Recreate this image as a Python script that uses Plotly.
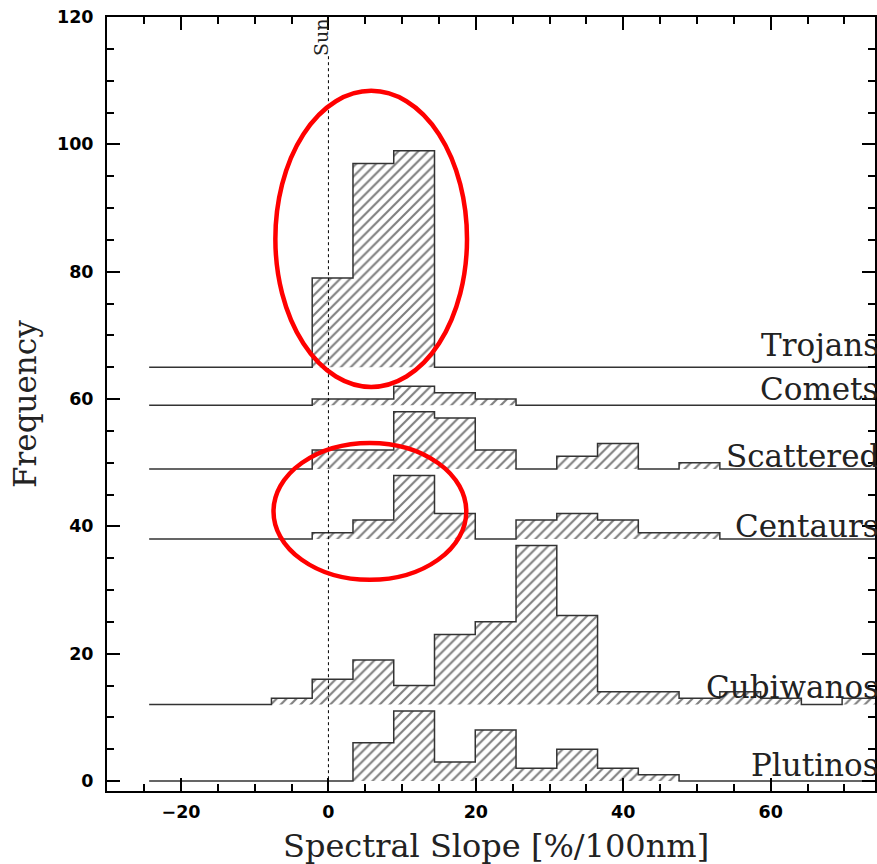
import plotly.graph_objects as go

# Histogram binning (spectral slope, %/100nm)
bin_start = -24.32
bin_width = 5.53
n_bins = 18

# Counts per bin for each dynamical class
plutinos = [0, 0, 0, 0, 0, 6, 11, 3, 8, 2, 5, 2, 1, 0, 0, 0, 0, 0]
cubiwanos = [0, 0, 0, 1, 4, 7, 3, 11, 13, 25, 14, 2, 2, 1, 2, 1, 0, 1]
centaurs = [0, 0, 0, 0, 1, 3, 10, 4, 0, 3, 4, 3, 1, 1, 0, 0, 0, 0]
scattered = [0, 0, 0, 0, 3, 3, 9, 8, 3, 0, 2, 4, 0, 1, 0, 0, 0, 0]
comets = [0, 0, 0, 0, 1, 1, 3, 2, 1, 0, 0, 0, 0, 0, 0, 0, 0, 0]
trojans = [0, 0, 0, 0, 14, 32, 34, 0, 0, 0, 0, 0, 0, 0, 0, 0, 0, 0]

# Vertical offset applied to each class so the histograms stack
class_names = ["Plutinos", "Cubiwanos", "Centaurs", "Scattered", "Comets", "Trojans"]
class_counts = [plutinos, cubiwanos, centaurs, scattered, comets, trojans]
class_offsets = [0, 12, 38, 49, 59, 65]
label_y = [2.5, 14.8, 40.0, 51.0, 61.6, 68.5]

sun_slope = 0

edges = [bin_start + i * bin_width for i in range(n_bins + 1)]

fig = go.Figure()

for name, counts, off in zip(class_names, class_counts, class_offsets):
    sx, sy = [edges[0]], [off]
    for i, c in enumerate(counts):
        sx += [edges[i], edges[i + 1]]
        sy += [off + c, off + c]
    sx.append(edges[-1])
    sy.append(off)
    # hatched area
    fig.add_trace(go.Scatter(
        x=sx + [edges[0]], y=sy + [off], mode="lines", fill="toself",
        fillcolor="rgba(0,0,0,0)", line=dict(width=0),
        fillpattern=dict(shape="/", size=7, solidity=0.3,
                         fgcolor="#000000", bgcolor="white"),
        hoverinfo="skip", showlegend=False,
    ))
    # step outline
    fig.add_trace(go.Scatter(
        x=sx, y=sy, mode="lines", line=dict(color="#333333", width=1.5),
        name=name, showlegend=False,
    ))

# Solar colour reference line
fig.add_trace(go.Scatter(
    x=[sun_slope, sun_slope], y=[-1.6, 114], mode="lines",
    line=dict(color="black", width=1, dash="dot"), showlegend=False,
))

annotations = []
serif = "DejaVu Serif"
for name, ly in zip(class_names, label_y):
    annotations.append(dict(
        text=name, xref="paper", x=1.0, xshift=6, xanchor="right",
        yref="y", y=ly, yanchor="middle", showarrow=False,
        font=dict(family=serif, size=31, color="#222222"),
    ))

annotations.append(dict(
    text="Sun", xref="x", x=-1.1, yref="y", y=116.9, showarrow=False,
    textangle=-90, xanchor="center", yanchor="middle",
    font=dict(family=serif, size=19, color="#222222"),
))
annotations.append(dict(
    text="Frequency", xref="paper", x=0, xshift=-82, yref="paper", y=0.5,
    textangle=-90, xanchor="center", yanchor="middle", showarrow=False,
    font=dict(family=serif, size=31, color="#222222"),
))
annotations.append(dict(
    text="Spectral Slope [%/100nm]", xref="paper", x=0.506, yref="paper", y=0,
    yshift=-55, xanchor="center", yanchor="middle", showarrow=False,
    font=dict(family=serif, size=32, color="#222222"),
))

shapes = [
    dict(type="circle", xref="x", yref="y", x0=-7.2, x1=18.8, y0=61.9, y1=108.4,
         line=dict(color="#ff0000", width=4.5), layer="above"),
    dict(type="circle", xref="x", yref="y", x0=-7.45, x1=18.7, y0=31.6, y1=53.1,
         line=dict(color="#ff0000", width=4.5), layer="above"),
]

tickfont = dict(family="DejaVu Sans", size=17.5, color="black", weight="bold")

fig.update_layout(
    width=877, height=864,
    margin=dict(l=107, r=0, t=17, b=73),
    paper_bgcolor="white", plot_bgcolor="white",
    annotations=annotations, shapes=shapes,
    xaxis=dict(
        range=[-30.04, 74.15], showgrid=False, zeroline=False,
        showline=True, linecolor="black", linewidth=2, mirror="ticks",
        ticks="inside", ticklen=13, tickwidth=2, tickcolor="black",
        tick0=0, dtick=20, tickfont=tickfont, ticklabelstandoff=4,
        minor=dict(ticks="inside", ticklen=7, tickwidth=1.5, dtick=5,
                   tick0=0, tickcolor="black", showgrid=False),
    ),
    yaxis=dict(
        range=[-1.57, 120], showgrid=False, zeroline=False,
        showline=True, linecolor="black", linewidth=2, mirror="ticks",
        ticks="inside", ticklen=13, tickwidth=2, tickcolor="black",
        tick0=0, dtick=20, tickfont=tickfont, ticklabelstandoff=8,
        minor=dict(ticks="inside", ticklen=7, tickwidth=1.5, dtick=5,
                   tick0=0, tickcolor="black", showgrid=False),
    ),
)

fig.write_html("out.html")
